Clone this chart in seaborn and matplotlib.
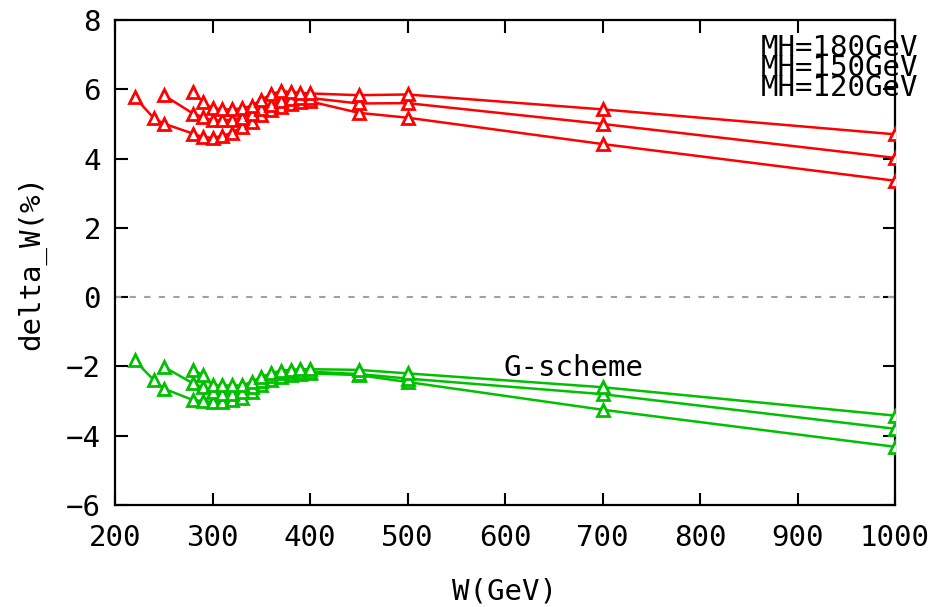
import matplotlib
matplotlib.use("Agg")
import matplotlib.pyplot as plt
import seaborn as sns
import pandas as pd

# ---- data ----
w_mh120 = [220, 240, 250, 280, 290, 300, 310, 320, 330, 340, 350, 360, 370, 380, 390, 400, 450, 500, 700, 1000]
w_mh150 = [250, 280, 290, 300, 310, 320, 330, 340, 350, 360, 370, 380, 390, 400, 450, 500, 700, 1000]
w_mh180 = [280, 290, 300, 310, 320, 330, 340, 350, 360, 370, 380, 390, 400, 450, 500, 700, 1000]

red_mh120 = [5.78, 5.16, 5.01, 4.72, 4.62, 4.60, 4.65, 4.75, 4.90, 5.05, 5.25, 5.40, 5.50, 5.58, 5.62, 5.65, 5.32, 5.18, 4.42, 3.36]
red_mh150 = [5.83, 5.30, 5.20, 5.10, 5.10, 5.12, 5.18, 5.28, 5.42, 5.55, 5.65, 5.72, 5.75, 5.75, 5.59, 5.60, 5.00, 4.02]
red_mh180 = [5.93, 5.64, 5.45, 5.42, 5.42, 5.45, 5.52, 5.70, 5.85, 5.95, 5.92, 5.90, 5.88, 5.83, 5.85, 5.42, 4.70]

green_mh120 = [-1.82, -2.40, -2.64, -2.97, -3.00, -3.02, -3.02, -2.98, -2.90, -2.75, -2.55, -2.40, -2.30, -2.25, -2.22, -2.20, -2.25, -2.45, -3.25, -4.32]
green_mh150 = [-2.01, -2.49, -2.60, -2.75, -2.80, -2.80, -2.75, -2.60, -2.42, -2.28, -2.20, -2.15, -2.15, -2.15, -2.22, -2.35, -2.80, -3.80]
green_mh180 = [-2.09, -2.25, -2.55, -2.55, -2.55, -2.55, -2.45, -2.30, -2.20, -2.12, -2.10, -2.08, -2.08, -2.10, -2.20, -2.60, -3.42]

legend_labels = ["MH=180GeV", "MH=150GeV", "MH=120GeV"]
x_ticks = [200, 300, 400, 500, 600, 700, 800, 900, 1000]
y_ticks = [-6, -4, -2, 0, 2, 4, 6, 8]

# ---- build long table ----
rows = []
for name, xs, ys in [("r120", w_mh120, red_mh120), ("r150", w_mh150, red_mh150), ("r180", w_mh180, red_mh180),
                     ("g120", w_mh120, green_mh120), ("g150", w_mh150, green_mh150), ("g180", w_mh180, green_mh180)]:
    for x, y in zip(xs, ys):
        rows.append({"W": x, "delta": y, "curve": name})
df = pd.DataFrame(rows)

RED = "#ff0000"
GREEN = "#00c000"
palette = {"r120": RED, "r150": RED, "r180": RED, "g120": GREEN, "g150": GREEN, "g180": GREEN}

sns.set_style("ticks")
plt.rcParams["font.family"] = ["DejaVu Sans Mono", "DejaVu Sans"]
plt.rcParams["text.color"] = "black"
plt.rcParams["axes.labelcolor"] = "black"
plt.rcParams["xtick.color"] = "black"
plt.rcParams["ytick.color"] = "black"

FS = 21

fig = plt.figure(figsize=(9.4, 6.07), dpi=100)
ax = fig.add_axes([115 / 940, 1 - 505 / 607, (895 - 115) / 940, (505 - 20) / 607])

ax.axhline(0, color="#a0a0a0", lw=1.5, ls=(0, (3, 4)), zorder=1)

sns.lineplot(data=df, x="W", y="delta", hue="curve", palette=palette, estimator=None,
             sort=True, marker="^", markersize=8, markeredgewidth=2,
             linewidth=1.8, legend=False, ax=ax, zorder=3)
for ln in ax.lines[1:]:
    c = ln.get_color()
    ln.set_markeredgecolor(c)
    ln.set_markerfacecolor("white")

ax.set_xlim(200, 1000)
ax.set_ylim(-6, 8)
ax.set_xticks(x_ticks)
ax.set_yticks(y_ticks)
ax.tick_params(direction="in", length=9, width=1.5, top=True, right=True, labelsize=FS)
ax.tick_params(axis="x", pad=14)
ax.tick_params(axis="y", pad=10)
for s in ax.spines.values():
    s.set_visible(True)
    s.set_linewidth(1.6)
    s.set_color("black")

ax.set_xlabel("W(GeV)", fontsize=FS, labelpad=18)
ax.set_ylabel("delta_W(%)", fontsize=FS, labelpad=14)

ax.text(670, -2.05, "G-scheme", fontsize=FS, ha="center", va="center")

for i, lab in enumerate(legend_labels):
    fig.text(918 / 940, 1 - (48 + 20 * i) / 607, lab, fontsize=FS, ha="right", va="center")

fig.savefig("out.png", dpi=100)
